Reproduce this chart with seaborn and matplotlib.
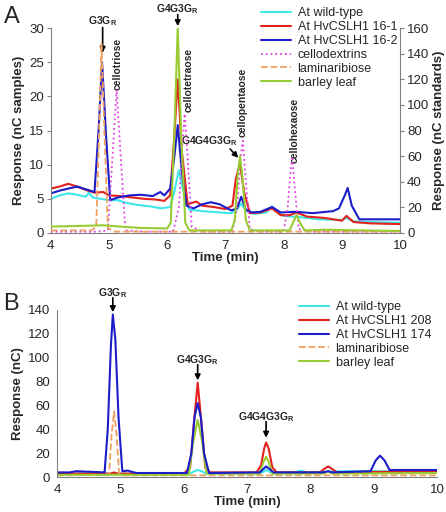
"""HPAEC-PAD chromatograms, panels A and B."""

import matplotlib
matplotlib.use("Agg")
import matplotlib.pyplot as plt
import seaborn as sns

# ---- Panel A: samples (left axis, nC) ----
a_wt_t = [4.0, 4.15, 4.3, 4.45, 4.6, 4.65, 4.72, 4.85, 5.0, 5.15, 5.3, 5.5, 5.7, 5.9, 6.05, 6.12,
          6.2, 6.28, 6.38, 6.6, 6.9, 7.1, 7.2, 7.27, 7.35, 7.5, 7.7, 7.8, 7.9, 8.0, 8.3, 8.6,
          9.0, 9.08, 9.2, 9.5, 10.0]
a_wt_y = [5.0, 5.5, 5.8, 5.6, 5.3, 5.9, 5.2, 5.0, 4.8, 4.8, 4.4, 4.1, 3.9, 3.6, 3.8, 6.0,
          9.2, 6.0, 3.4, 3.2, 3.0, 2.9, 3.5, 4.3, 3.3, 2.8, 3.0, 3.9, 3.0, 2.5, 2.3, 2.0,
          1.9, 2.2, 1.7, 1.6, 1.5]

a_161_t = [4.0, 4.15, 4.3, 4.45, 4.6, 4.75, 4.9, 5.0, 5.2, 5.4, 5.6, 5.8, 5.95, 6.05, 6.12, 6.18,
           6.25, 6.35, 6.5, 6.6, 6.8, 7.0, 7.12, 7.18, 7.25, 7.32, 7.42, 7.6, 7.8, 7.95, 8.1,
           8.22, 8.4, 8.7, 9.0, 9.08, 9.2, 9.5, 10.0]
a_161_y = [6.5, 6.8, 7.2, 6.8, 6.3, 5.9, 6.0, 5.5, 5.4, 5.2, 5.0, 4.9, 4.7, 5.5, 14.0, 22.5,
           12.0, 4.2, 4.6, 4.0, 3.8, 3.5, 4.0, 8.0, 10.2, 6.0, 2.9, 3.0, 3.6, 2.6, 2.6,
           3.0, 2.4, 2.2, 1.8, 2.5, 1.6, 1.4, 1.3]

a_162_t = [4.0, 4.15, 4.3, 4.45, 4.6, 4.75, 4.82, 4.88, 4.95, 5.02, 5.15, 5.35, 5.55, 5.75, 5.88,
           5.95, 6.05, 6.12, 6.18, 6.25, 6.33, 6.45, 6.6, 6.75, 6.9, 7.1, 7.2, 7.27, 7.35, 7.45,
           7.6, 7.8, 7.95, 8.2, 8.5, 8.85, 8.95, 9.05, 9.1, 9.17, 9.3, 9.6, 10.0]
a_162_y = [5.8, 6.2, 6.5, 6.8, 6.4, 6.0, 15.0, 25.0, 14.0, 4.8, 5.2, 5.5, 5.6, 5.4, 6.0,
           5.5, 6.5, 11.0, 15.8, 9.0, 4.0, 3.6, 4.2, 4.5, 4.2, 3.3, 3.6, 5.3, 3.4, 3.0,
           3.1, 3.8, 3.0, 3.1, 2.9, 3.2, 3.6, 5.5, 6.6, 4.0, 2.0, 2.0, 2.0]

# ---- Panel A: standards (right axis, nC) ----
a_cello_t = [4.0, 4.8, 4.98, 5.06, 5.13, 5.2, 5.28, 5.6, 6.1, 6.2, 6.26, 6.3, 6.35, 6.42, 6.6,
             7.12, 7.2, 7.26, 7.3, 7.35, 7.42, 7.6, 8.0, 8.07, 8.12, 8.15, 8.19, 8.26, 8.5, 10.0]
a_cello_y = [1, 1, 2, 60, 112, 60, 2, 1, 1, 20, 70, 93, 60, 5, 1,
             1, 20, 60, 72, 40, 3, 1, 1, 20, 50, 58, 35, 3, 1, 1]

a_lam_t = [4.0, 4.7, 4.78, 4.83, 4.87, 4.92, 4.98, 5.1, 10.0]
a_lam_y = [2, 2, 5, 80, 148, 80, 4, 1, 1]

a_barley_t = [4.0, 4.5, 4.9, 5.5, 6.0, 6.06, 6.12, 6.18, 6.24, 6.31, 6.38, 6.6, 7.1, 7.16, 7.21,
              7.25, 7.29, 7.35, 7.42, 7.8, 8.1, 8.16, 8.22, 8.28, 8.36, 8.7, 10.0]
a_barley_y = [5, 5.5, 6, 4, 3.5, 8, 75, 160, 75, 8, 2, 2, 2, 10, 45,
              60, 45, 10, 2, 2, 2, 8, 14, 8, 2, 2.5, 1.5]

# ---- Panel B (nC) ----
b_wt_t = [4, 6.1, 6.17, 6.22, 6.28, 6.35, 7.2, 7.27, 7.3, 7.34, 7.4, 7.75, 7.85, 7.95, 8.5, 10]
b_wt_y = [3, 3, 5, 6, 5, 3, 3, 5, 6, 5, 3, 4, 5.5, 4, 5, 5]

b_208_t = [4, 4.85, 4.9, 4.95, 5.2, 6.0, 6.1, 6.16, 6.22, 6.28, 6.34, 6.42, 7.15, 7.22, 7.27,
           7.3, 7.34, 7.4, 7.47, 8.15, 8.22, 8.28, 8.34, 8.42, 10]
b_208_y = [3, 3, 4, 3, 3, 3, 8, 45, 79, 45, 8, 4, 4, 10, 24,
           29, 24, 8, 4, 4, 7, 9, 7, 4, 5]

b_174_t = [4, 4.2, 4.3, 4.75, 4.8, 4.85, 4.88, 4.92, 4.97, 5.03, 5.12, 5.18, 5.25, 6.05, 6.12,
           6.17, 6.22, 6.27, 6.32, 6.4, 7.2, 7.26, 7.3, 7.35, 7.42, 8.2, 8.28, 8.35, 8.95, 9.03,
           9.1, 9.17, 9.25, 10]
b_174_y = [4, 4, 5, 4, 40, 110, 136, 115, 50, 5, 5.5, 4.5, 3.5, 3.5, 20,
           50, 62, 50, 20, 3.5, 4, 7, 9, 7, 4, 4, 5, 4, 5, 14,
           18, 14, 6, 6]

b_lam_t = [4, 4.82, 4.86, 4.9, 4.94, 4.98, 5.05, 10]
b_lam_y = [1.5, 2, 35, 55, 35, 3, 1.5, 1.5]

b_barley_t = [4, 6.08, 6.15, 6.22, 6.29, 6.36, 7.2, 7.26, 7.3, 7.34, 7.4, 8.2, 8.28, 8.35, 10]
b_barley_y = [2, 2, 30, 48, 30, 3, 3, 13, 17, 13, 3, 3, 4.5, 3, 3.5]

CYAN = "#3ee8e8"
RED = "#e4201c"
BLUE = "#1c1cc8"
MAGENTA = "#e040e0"
ORANGE = "#f0a060"
GREEN = "#99cc33"
GRAY = "#808080"

sns.set_style("white")
plt.rcParams["font.family"] = ["Liberation Sans", "DejaVu Sans"]
plt.rcParams["mathtext.fontset"] = "custom"
plt.rcParams["mathtext.rm"] = "Liberation Sans"
plt.rcParams["mathtext.bf"] = "Liberation Sans:bold"

fig = plt.figure(figsize=(4.46, 5.12), dpi=100)


def style_axis(ax, right=False):
    for side in ["top", "right", "left", "bottom"]:
        ax.spines[side].set_visible(False)
    ax.spines["bottom"].set_visible(True)
    ax.spines["bottom"].set_color(GRAY)
    side = "right" if right else "left"
    ax.spines[side].set_visible(True)
    ax.spines[side].set_color(GRAY)
    ax.tick_params(axis="both", direction="out", length=3, color=GRAY,
                   labelsize=9.5, pad=2)


def trace(ax, t, y, color, label, ls="-", lw=1.5):
    sns.lineplot(x=t, y=y, ax=ax, color=color, lw=lw, ls=ls, label=label,
                 sort=False, legend=False)


def arrow(ax, tail, tip):
    ax.annotate("", xy=tip, xytext=tail, annotation_clip=False,
                arrowprops=dict(arrowstyle="-|>", color="black", lw=1.2,
                                mutation_scale=8, shrinkA=0, shrinkB=0))


# ---------------- Panel A ----------------
axA = fig.add_axes([0.114, 0.545, 0.783, 0.400])
trace(axA, a_wt_t, a_wt_y, CYAN, "At wild-type")
trace(axA, a_161_t, a_161_y, RED, "At HvCSLH1 16-1")
trace(axA, a_162_t, a_162_y, BLUE, "At HvCSLH1 16-2")
axA.set_xlim(4, 10)
axA.set_ylim(0, 30)
axA.set_xticks([4, 5, 6, 7, 8, 9, 10])
axA.set_yticks([0, 5, 10, 15, 20, 25, 30])
style_axis(axA)
axA.set_xlabel("Time (min)", fontsize=9.5, fontweight="bold", labelpad=0)
axA.set_ylabel("Response (nC samples)", fontsize=9.5, fontweight="bold", labelpad=3)

axA2 = axA.twinx()
trace(axA2, a_cello_t, a_cello_y, MAGENTA, "cellodextrins", ls=":", lw=1.3)
trace(axA2, a_lam_t, a_lam_y, ORANGE, "laminaribiose", ls="--", lw=1.3)
trace(axA2, a_barley_t, a_barley_y, GREEN, "barley leaf")
axA2.set_ylim(0, 160)
axA2.set_yticks([0, 20, 40, 60, 80, 100, 120, 140, 160])
style_axis(axA2, right=True)
axA2.spines["bottom"].set_visible(False)
axA2.set_ylabel("Response (nC standards)", fontsize=9.5, fontweight="bold", labelpad=3)

hA = axA.get_lines() + axA2.get_lines()
fig.legend(handles=hA, labels=[h.get_label() for h in hA], loc="upper left",
           bbox_to_anchor=(0.572, 0.998), frameon=False, fontsize=9,
           labelspacing=0.15, handlelength=2.4, handletextpad=0.5, borderpad=0)

bold = dict(fontsize=7.5, fontweight="bold", ha="center")
axA.text(4.89, 31.0, r"G3G$_\mathbf{R}$", va="center", **bold)
arrow(axA, (4.89, 30.1), (4.89, 26.4))
axA.text(6.18, 32.8, r"G4G3G$_\mathbf{R}$", va="center", **bold)
arrow(axA, (6.18, 32.0), (6.18, 30.3))
axA.text(6.72, 13.4, r"G4G4G3G$_\mathbf{R}$", va="center", **bold)
arrow(axA, (7.08, 12.3), (7.22, 11.0))
rot = dict(fontsize=7.5, fontweight="bold", rotation=90, ha="center", va="bottom")
axA.text(5.14, 21.0, "cellotriose", **rot)
axA.text(6.36, 17.7, "cellotetraose", **rot)
axA.text(7.29, 14.0, "cellopentaose", **rot)
axA.text(8.19, 10.3, "cellohexaose", **rot)
fig.text(0.008, 0.955, "A", fontsize=17)

# ---------------- Panel B ----------------
axB = fig.add_axes([0.128, 0.068, 0.852, 0.327])
trace(axB, b_wt_t, b_wt_y, CYAN, "At wild-type")
trace(axB, b_208_t, b_208_y, RED, "At HvCSLH1 208")
trace(axB, b_lam_t, b_lam_y, ORANGE, "laminaribiose", ls="--", lw=1.3)
trace(axB, b_barley_t, b_barley_y, GREEN, "barley leaf")
trace(axB, b_174_t, b_174_y, BLUE, "At HvCSLH1 174")
axB.set_xlim(4, 10)
axB.set_ylim(0, 140)
axB.set_xticks([4, 5, 6, 7, 8, 9, 10])
axB.set_yticks([0, 20, 40, 60, 80, 100, 120, 140])
style_axis(axB)
axB.set_xlabel("Time (min)", fontsize=9.5, fontweight="bold", labelpad=0)
axB.set_ylabel("Response (nC)", fontsize=9.5, fontweight="bold", labelpad=3)

lines = {l.get_label(): l for l in axB.get_lines()}
order = ["At wild-type", "At HvCSLH1 208", "At HvCSLH1 174", "laminaribiose", "barley leaf"]
fig.legend(handles=[lines[k] for k in order], labels=order, loc="upper left",
           bbox_to_anchor=(0.657, 0.424), frameon=False, fontsize=9,
           labelspacing=0.15, handlelength=2.4, handletextpad=0.5, borderpad=0)

axB.text(4.88, 154, r"G3G$_\mathbf{R}$", va="center", **bold)
arrow(axB, (4.88, 150), (4.88, 138))
axB.text(6.22, 98, r"G4G3G$_\mathbf{R}$", va="center", **bold)
arrow(axB, (6.22, 94), (6.22, 81))
axB.text(7.3, 50.5, r"G4G4G3G$_\mathbf{R}$", va="center", **bold)
arrow(axB, (7.3, 46.5), (7.3, 33))
fig.text(0.008, 0.395, "B", fontsize=17)

fig.savefig("out.png", dpi=100)
